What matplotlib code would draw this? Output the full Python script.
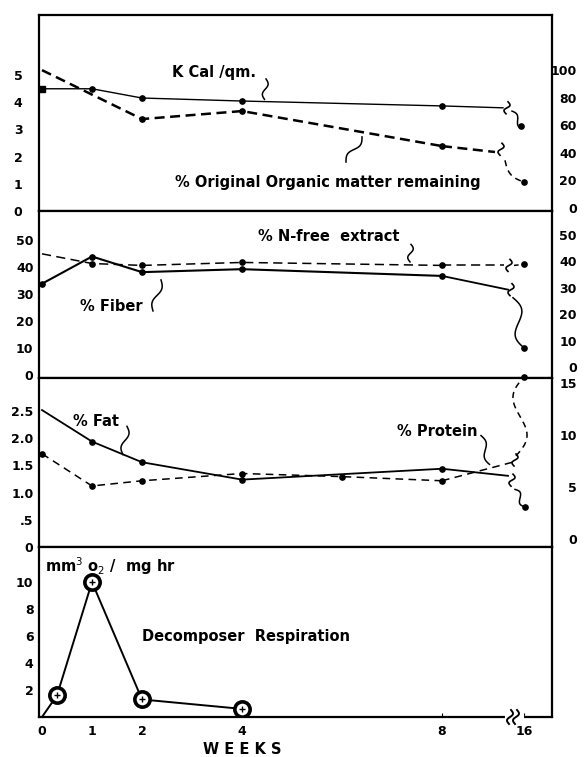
import numpy as np
import matplotlib
matplotlib.use("Agg")
import matplotlib.pyplot as plt

plt.rcParams['font.family'] = ['DejaVu Sans']

# x position used for the 16-week points (axis is broken after week 8)
X16 = 9.64

# ── panel 1: KCal/gm (left axis), % original organic matter (right axis) ──
kcal_wk = [0, 1, 2, 4, 8]
kcal_val = [4.49, 4.49, 4.15, 4.04, 3.86]
kcal_stub = (9.22, 3.79)
kcal_16 = 3.13

org_wk = [0, 2, 4, 8]
org_val = [100, 64.5, 70.3, 44.9]
org_stub = (9.06, 40.6)
org_16 = 18.8

# ── panel 2: % fiber, % N-free extract ──
fib_wk = [0, 1, 2, 4, 8]
fib_val = [33.9, 44.0, 38.2, 39.3, 36.8]
fib_stub = (9.32, 31.7)
fib_16 = 10.1

nfe_wk = [0, 1, 2, 4, 8]
nfe_val = [45.0, 41.4, 40.7, 41.8, 40.7]
nfe_stub = (9.24, 40.7)
nfe_16 = 41.1

# ── panel 3: % fat (left), % protein (right) ──
fat_wk = [0, 1, 2, 4, 8]
fat_val = [2.52, 1.94, 1.56, 1.24, 1.44]
fat_stub = (9.32, 1.31)
fat_16 = 0.74

pro_wk = [0, 1, 2, 4, 6, 8]
pro_val = [8.2, 5.1, 5.6, 6.3, 6.0, 5.6]
pro_stub = (9.42, 7.4)
pro_16 = 15.6

# ── panel 4: decomposer respiration, mm3 O2 / mg hr ──
resp_wk = [0, 0.3, 1, 2, 4]
resp_val = [0, 1.6, 10, 1.3, 0.6]

x_ticks = [0, 1, 2, 4, 8, X16]
x_labels = ["0", "1", "2", "4", "8", "16"]
p1_left = [0, 1, 2, 3, 4, 5]
p1_right = [0, 20, 40, 60, 80, 100]
p2_ticks = [0, 10, 20, 30, 40, 50]
p3_left = [0, 0.5, 1.0, 1.5, 2.0, 2.5]
p3_left_lab = ["0", ".5", "1.0", "1.5", "2.0", "2.5"]
p3_right = [0, 5, 10, 15]
p4_left = [2, 4, 6, 8, 10]

FW, FH = 584, 757
fig = plt.figure(figsize=(FW / 100, FH / 100), dpi=100)
L, R = 39, 552
rows = [(15, 211), (211, 378), (378, 547), (547, 717)]
axes = [fig.add_axes([L / FW, 1 - b / FH, (R - L) / FW, (b - t) / FH]) for t, b in rows]
ax1, ax2, ax3, ax4 = axes
ax1r, ax2r, ax3r = ax1.twinx(), ax2.twinx(), ax3.twinx()

TF = dict(fontsize=9, fontweight="bold")


def wavy(ax, p0, p1, amp=3.0, cycles=1.0, lw=1.1, **kw):
    # draw a hand-drawn style wiggle between two data points (wiggle in pixels)
    a = ax.transData.transform(p0)
    b = ax.transData.transform(p1)
    t = np.linspace(0, 1, 80)
    d = b - a
    n = np.array([-d[1], d[0]]) / np.hypot(*d)
    off = amp * np.sin(2 * np.pi * cycles * t)
    pts = a[None, :] + t[:, None] * d[None, :] + off[:, None] * n[None, :]
    xy = ax.transData.inverted().transform(pts)
    ax.plot(xy[:, 0], xy[:, 1], color="k", lw=lw, clip_on=False, **kw)


def brk(ax, x, y, h=6, lw=1.2, zorder=3):
    px, py = ax.transData.transform((x, y))
    p0 = ax.transData.inverted().transform((px + 1, py + h))
    p1 = ax.transData.inverted().transform((px - 1, py - h))
    wavy(ax, p0, p1, amp=2.5, cycles=1.0, lw=lw, zorder=zorder)


def style(ax, ylim, ticks, labels=None, pad=4, side="left"):
    ax.set_xlim(-0.06, 10.2)
    ax.set_ylim(*ylim)
    ax.set_yticks(ticks)
    ax.set_yticklabels(labels if labels else [str(v) for v in ticks], **TF)
    ax.tick_params(axis="y", length=0, pad=pad)
    if side == "right":
        for lab in ax.get_yticklabels():
            lab.set_horizontalalignment("right")


for ax in axes:
    ax.set_xticks([])
    for s in ax.spines.values():
        s.set_linewidth(1.6)
for ax in (ax1r, ax2r, ax3r):
    for s in ax.spines.values():
        s.set_visible(False)

style(ax1, (0, 7.2), p1_left, pad=12)
style(ax1r, (-2.2, 140), p1_right, pad=18, side="right")
style(ax2, (-1.1, 60.9), p2_ticks, pad=4)
style(ax2r, (-4.2, 59.1), p2_ticks, pad=18, side="right")
style(ax3, (0, 3.11), p3_left, p3_left_lab, pad=4)
style(ax3r, (-0.78, 15.5), p3_right, pad=18, side="right")
style(ax4, (0, 12.6), p4_left, pad=4)

dot = dict(marker="o", ms=3.8, mfc="k", mec="k")

# ── panel 1 ──
ax1.plot(kcal_wk, kcal_val, color="k", lw=1.0, markevery=[1, 2, 3, 4], **dot)
ax1.plot([kcal_wk[-1], kcal_stub[0]], [kcal_val[-1], kcal_stub[1]], color="k", lw=1.0)
ax1.plot([0], [kcal_val[0]], marker="s", ms=4, color="k", clip_on=False)
brk(ax1, kcal_stub[0] + 0.08, kcal_stub[1])
wavy(ax1, (kcal_stub[0] + 0.18, kcal_stub[1] - 0.12), (X16 - 0.06, kcal_16), amp=2.5, cycles=0.8)
ax1.plot([X16 - 0.06], [kcal_16], **dot)

ax1r.plot(org_wk, org_val, color="k", lw=1.8, dashes=(4, 2.2), markevery=[1, 2, 3], **dot)
ax1r.plot([org_wk[-1], org_stub[0]], [org_val[-1], org_stub[1]], color="k", lw=1.8, dashes=(4, 2.2))
brk(ax1r, org_stub[0] + 0.12, org_stub[1] + 2)
wavy(ax1r, (org_stub[0] + 0.2, org_stub[1] - 6), (X16, org_16), amp=-5, cycles=0.5,
     dashes=(4, 3))
ax1r.plot([X16], [org_16], **dot)

ax1.text(2.6, 5.07, "K Cal /qm.", fontsize=10.5, fontweight="bold", va="center")
wavy(ax1, (4.48, 4.85), (4.45, 4.1), amp=2.5)
ax1.text(2.66, 1.03, "% Original Organic matter remaining", fontsize=10.5,
         fontweight="bold", va="center")
wavy(ax1, (6.08, 1.8), (6.4, 2.72), amp=3)

# ── panel 2 ──
ax2.plot(fib_wk, fib_val, color="k", lw=1.5, **dot)
ax2.plot([fib_wk[-1], fib_stub[0]], [fib_val[-1], fib_stub[1]], color="k", lw=1.3)
brk(ax2, fib_stub[0] + 0.06, fib_stub[1])
wavy(ax2, (fib_stub[0] + 0.1, fib_stub[1] - 3), (X16, fib_16), amp=6, cycles=1.0)
ax2.plot([X16], [fib_16], **dot)

ax2.plot(nfe_wk, nfe_val, color="k", lw=1.1, dashes=(6, 3.5), markevery=[1, 2, 3, 4], **dot)
ax2.plot([nfe_wk[-1], nfe_stub[0]], [nfe_val[-1], nfe_stub[1]], color="k", lw=1.1,
         dashes=(6, 3.5))
brk(ax2, nfe_stub[0] + 0.1, nfe_stub[1])
ax2.plot([nfe_stub[0] + 0.2, X16], [nfe_stub[1], nfe_16], color="k", lw=1.1, dashes=(3, 2))
ax2.plot([X16], [nfe_16], **dot)

ax2.text(4.32, 51.5, "% N-free  extract", fontsize=10.5, fontweight="bold", va="center")
wavy(ax2, (7.38, 48.5), (7.36, 42.0), amp=2.5)
ax2.text(0.76, 25.6, "% Fiber", fontsize=10.5, fontweight="bold", va="center")
wavy(ax2, (2.22, 23.8), (2.38, 35.3), amp=3)

# ── panel 3 ──
ax3.plot(fat_wk, fat_val, color="k", lw=1.3, markevery=[1, 2, 3, 4], **dot)
ax3.plot([fat_wk[-1], fat_stub[0]], [fat_val[-1], fat_stub[1]], color="k", lw=1.3)
brk(ax3, fat_stub[0] + 0.08, fat_stub[1] - 0.08)
wavy(ax3, (fat_stub[0] + 0.14, fat_stub[1] - 0.25), (X16 + 0.02, fat_16), amp=3, cycles=1.0)
ax3.plot([X16 + 0.02], [fat_16], **dot)

ax3r.plot(pro_wk, pro_val, color="k", lw=1.1, dashes=(5, 3.5), **dot)
ax3r.plot([pro_wk[-1], pro_stub[0]], [pro_val[-1], pro_stub[1]], color="k", lw=1.1,
          dashes=(5, 3.5))
brk(ax3r, pro_stub[0] + 0.04, pro_stub[1] + 0.2)
wavy(ax3r, (pro_stub[0] + 0.06, pro_stub[1] + 0.6), (X16, pro_16), amp=-9, cycles=1.0,
     dashes=(4, 3))
ax3r.plot([X16], [pro_16], clip_on=False, **dot)

ax3.text(0.62, 2.31, "% Fat", fontsize=10.5, fontweight="bold", va="center")
wavy(ax3, (1.7, 2.22), (1.62, 1.70), amp=3)
ax3.text(7.1, 2.13, "% Protein", fontsize=10.5, fontweight="bold", va="center")
wavy(ax3, (8.78, 2.05), (8.95, 1.52), amp=3)

# ── panel 4 ──
ax4.plot(resp_wk, resp_val, color="k", lw=1.4, clip_on=False)
ax4.plot(resp_wk[1:], resp_val[1:], ls="none", marker="o", ms=11, mfc="white",
         mec="k", mew=2.6, zorder=4)
ax4.plot(resp_wk[1:], resp_val[1:], ls="none", marker="+", ms=5, mec="k", mew=1.0, zorder=5)
ax4.text(0.06, 11.2, r"mm$^3$ o$_2$ /  mg hr", fontsize=10.5, fontweight="bold", va="center")
ax4.text(2.0, 6.0, "Decomposer  Respiration", fontsize=10.5, fontweight="bold", va="center")

ax4.set_xticks(x_ticks)
ax4.set_xticklabels(x_labels, **TF)
ax4.tick_params(axis="x", direction="in", length=0, pad=6)
for i in (4, 5):
    ax4.xaxis.get_major_ticks()[i].tick1line.set_markersize(3)
# axis break on the week axis
ax4.plot([9.3, 9.6], [0, 0], color="white", lw=3, clip_on=False, zorder=5)
brk(ax4, 9.36, 0, h=7, lw=1.4, zorder=6)
brk(ax4, 9.48, 0, h=7, lw=1.4, zorder=6)

fig.text(242 / FW, 1 - 749 / FH, "W E E K S", fontsize=10.5, fontweight="bold",
         ha="center", va="center")

fig.savefig("out.png", dpi=100)
